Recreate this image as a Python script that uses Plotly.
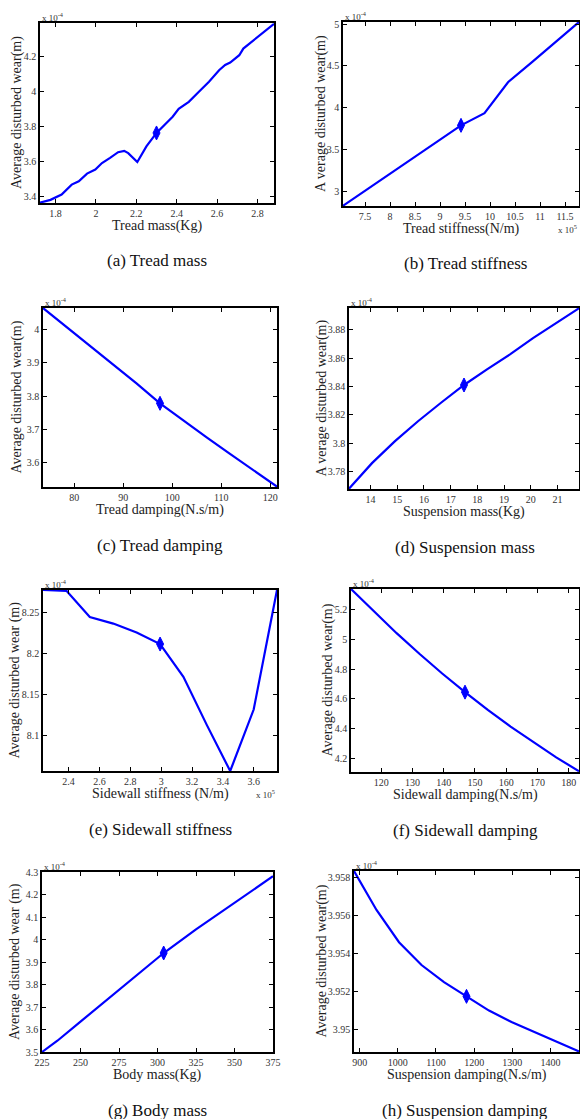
import plotly.graph_objects as go

W, H = 580, 1119

# ---------------- data (wear values in units of 1e-4 m) ----------------
# (a) Tread mass (Kg)
tread_mass = [1.723, 1.775, 1.83, 1.88, 1.915, 1.956, 1.997, 2.03, 2.07, 2.11, 2.14, 2.16, 2.205,
              2.25, 2.30, 2.35, 2.38, 2.41, 2.46, 2.51, 2.56, 2.61, 2.64, 2.665, 2.71, 2.73, 2.76,
              2.78, 2.83, 2.882]
wear_tread_mass = [3.364, 3.38, 3.41, 3.467, 3.486, 3.53, 3.553, 3.59, 3.62, 3.652, 3.66, 3.647, 3.596,
                   3.685, 3.762, 3.82, 3.855, 3.9, 3.94, 3.997, 4.054, 4.12, 4.15, 4.164, 4.206, 4.244,
                   4.272, 4.287, 4.333, 4.385]
nom_tread_mass = (2.30, 3.762)

# (b) Tread stiffness (x1e5 N/m)
tread_stiff = [7.06, 7.53, 8.0, 8.48, 8.95, 9.42, 9.89, 10.36, 10.84, 11.31, 11.78]
wear_tread_stiff = [2.83, 3.02, 3.21, 3.41, 3.60, 3.79, 3.935, 4.305, 4.545, 4.785, 5.024]
nom_tread_stiff = (9.42, 3.79)

# (c) Tread damping (N.s/m)
tread_damp = [73.6, 78.4, 83.2, 88.0, 92.7, 97.5, 102.3, 107.1, 111.8, 116.6, 121.4]
wear_tread_damp = [4.065, 4.008, 3.952, 3.896, 3.838, 3.778, 3.726, 3.675, 3.626, 3.576, 3.527]
nom_tread_damp = (97.5, 3.778)

# (d) Suspension mass (Kg)
susp_mass = [13.2, 14.06, 14.92, 15.78, 16.64, 17.5, 18.36, 19.22, 20.08, 20.94, 21.8]
wear_susp_mass = [3.768, 3.786, 3.8015, 3.8155, 3.8285, 3.841, 3.852, 3.8625, 3.874, 3.8845, 3.895]
nom_susp_mass = (17.5, 3.841)

# (e) Sidewall stiffness (x1e5 N/m)
side_stiff = [2.235, 2.387, 2.538, 2.69, 2.841, 2.993, 3.144, 3.296, 3.447, 3.599, 3.75]
wear_side_stiff = [8.278, 8.277, 8.245, 8.237, 8.226, 8.212, 8.172, 8.113, 8.057, 8.132, 8.278]
nom_side_stiff = (2.993, 8.212)

# (f) Sidewall damping (N.s/m)
side_damp = [110.3, 117.6, 124.9, 132.2, 139.5, 146.8, 154.1, 161.4, 168.7, 176.0, 183.3]
wear_side_damp = [5.336, 5.185, 5.040, 4.902, 4.770, 4.645, 4.526, 4.414, 4.308, 4.208, 4.115]
nom_side_damp = (146.8, 4.645)

# (g) Body mass (Kg)
body_mass = [225, 235, 250, 275, 300, 304, 325, 350, 375]
wear_body_mass = [3.50, 3.55, 3.635, 3.775, 3.915, 3.94, 4.045, 4.165, 4.281]
nom_body_mass = (304, 3.94)

# (h) Suspension damping (N.s/m)
susp_damp = [885, 944, 1003, 1062, 1121, 1180, 1239, 1298, 1357, 1416, 1475]
wear_susp_damp = [3.95835, 3.9563, 3.9546, 3.9534, 3.9525, 3.95175, 3.9510, 3.9504, 3.94988,
                  3.94938, 3.94885]
nom_susp_damp = (1180, 3.95175)

panels = [
    dict(x=tread_mass, y=wear_tread_mass, nom=nom_tread_mass, box=(40, 23, 274, 203),
         xr=[1.723, 2.882], yr=[3.362, 4.39], xd=0.2, x0=1.8, yd=0.2, y0=3.4,
         xt="Tread mass(Kg)", yt="Average disturbed wear(m)", cap="(a) Tread mass", ytx=17, xexp=False),
    dict(x=tread_stiff, y=wear_tread_stiff, nom=nom_tread_stiff, box=(343, 22, 579, 206),
         xr=[7.06, 11.78], yr=[2.827, 5.024], xd=0.5, x0=7.5, yd=0.5, y0=3,
         xt="Tread stiffness(N/m)", yt="A verage disturbed wear(m)", cap="(b) Tread stiffness", ytx=321, xexp=True),
    dict(x=tread_damp, y=wear_tread_damp, nom=nom_tread_damp, box=(43, 308, 277, 487),
         xr=[73.6, 121.4], yr=[3.526, 4.065], xd=10, x0=80, yd=0.1, y0=3.6,
         xt="Tread damping(N.s/m)", yt="Average disturbed wear(m)", cap="(c) Tread damping", ytx=16, xexp=False),
    dict(x=susp_mass, y=wear_susp_mass, nom=nom_susp_mass, box=(349, 308, 579, 489),
         xr=[13.2, 21.8], yr=[3.7678, 3.8952], xd=1, x0=14, yd=0.02, y0=3.78,
         xt="Suspension mass(Kg)", yt="A verage disturbed wear(m)", cap="(d) Suspension mass", ytx=321, xexp=False),
    dict(x=side_stiff, y=wear_side_stiff, nom=nom_side_stiff, box=(43, 590, 277, 771),
         xr=[2.235, 3.75], yr=[8.057, 8.278], xd=0.2, x0=2.4, yd=0.05, y0=8.1,
         xt="Sidewall stiffness (N/m)", yt="Average disturbed wear (m)", cap="(e) Sidewall stiffness", ytx=14, xexp=True),
    dict(x=side_damp, y=wear_side_damp, nom=nom_side_damp, box=(351, 589, 579, 772),
         xr=[110.3, 183.3], yr=[4.11, 5.336], xd=10, x0=120, yd=0.2, y0=4.2,
         xt="Sidewall damping(N.s/m)", yt="Average disturbed wear(m)", cap="(f) Sidewall damping", ytx=327, xexp=False),
    dict(x=body_mass, y=wear_body_mass, nom=nom_body_mass, box=(42, 872, 273, 1052),
         xr=[225, 375], yr=[3.5, 4.3], xd=25, x0=225, yd=0.1, y0=3.5,
         xt="Body mass(Kg)", yt="Average disturbed wear (m)", cap="(g) Body mass", ytx=15, xexp=False),
    dict(x=susp_damp, y=wear_susp_damp, nom=nom_susp_damp, box=(354, 871, 579, 1052),
         xr=[885, 1475], yr=[3.94882, 3.95835], xd=100, x0=900, yd=0.002, y0=3.95,
         xt="Suspension damping(N.s/m)", yt="Average disturbed wear(m)", cap="(h) Suspension damping", ytx=321, xexp=False),
]

SERIF = "Liberation Serif, Times New Roman, serif"
BLUE = "#0000ff"

fig = go.Figure()
annotations = []
layout_axes = {}

def px(xp):
    return xp / W

def py(yp):
    return 1 - yp / H

for i, p in enumerate(panels, start=1):
    xa = "x" if i == 1 else f"x{i}"
    ya = "y" if i == 1 else f"y{i}"
    l, t, r, b = p["box"]
    fig.add_trace(go.Scatter(x=p["x"], y=p["y"], mode="lines", xaxis=xa, yaxis=ya,
                             line=dict(color=BLUE, width=2.2), showlegend=False, hoverinfo="skip",
                             cliponaxis=True))
    fig.add_trace(go.Scatter(x=[p["nom"][0]], y=[p["nom"][1]], mode="markers", xaxis=xa, yaxis=ya,
                             marker=dict(symbol="diamond-tall", size=10, color=BLUE,
                                         line=dict(color=BLUE, width=1)),
                             showlegend=False, hoverinfo="skip"))
    common = dict(showline=True, linecolor="black", linewidth=1.5, mirror="ticks", ticks="inside",
                  ticklen=4, tickwidth=1, tickcolor="black", showgrid=False, zeroline=False,
                  tickfont=dict(family=SERIF, size=10, color="#333"), fixedrange=True,
                  automargin=False)
    layout_axes["xaxis" if i == 1 else f"xaxis{i}"] = dict(
        domain=[px(l), px(r)], range=p["xr"], anchor=ya, tickmode="linear", tick0=p["x0"],
        dtick=p["xd"], **common)
    layout_axes["yaxis" if i == 1 else f"yaxis{i}"] = dict(
        domain=[py(b), py(t)], range=p["yr"], anchor=xa, tickmode="linear", tick0=p["y0"],
        dtick=p["yd"], **common)
    # exponent label
    annotations.append(dict(x=px(l), y=py(t), xref="paper", yref="paper", xanchor="left",
                            yanchor="bottom", showarrow=False, text="x 10<sup>-4</sup>",
                            font=dict(family=SERIF, size=9, color="#333"), yshift=-2))
    if p["xexp"]:
        annotations.append(dict(x=px(r), y=py(b + 23), xref="paper", yref="paper", xanchor="right",
                                yanchor="middle", showarrow=False, text="x 10<sup>5</sup>",
                                font=dict(family=SERIF, size=9, color="#333")))
    # x title
    annotations.append(dict(x=px((l + r) / 2), y=py(b + 23), xref="paper", yref="paper",
                            xanchor="center", yanchor="middle", showarrow=False, text=p["xt"],
                            font=dict(family=SERIF, size=14, color="#222")))
    # y title
    annotations.append(dict(x=px(p["ytx"]), y=py((t + b) / 2), xref="paper", yref="paper",
                            xanchor="center", yanchor="middle", showarrow=False, text=p["yt"],
                            textangle=-90, font=dict(family=SERIF, size=14, color="#222")))
    # caption
    cx = (l + r) / 2 if i % 2 == 1 else 465
    annotations.append(dict(x=px(cx), y=py(b + 58), xref="paper", yref="paper",
                            xanchor="center", yanchor="middle", showarrow=False, text=p["cap"],
                            font=dict(family=SERIF, size=17, color="#111")))

fig.update_layout(width=W, height=H, margin=dict(l=0, r=0, t=0, b=0),
                  paper_bgcolor="white", plot_bgcolor="white",
                  annotations=annotations, **layout_axes)

fig.write_html("out.html", config={"displayModeBar": False},
               post_script="document.body.style.margin='0';document.body.style.overflow='hidden';")
